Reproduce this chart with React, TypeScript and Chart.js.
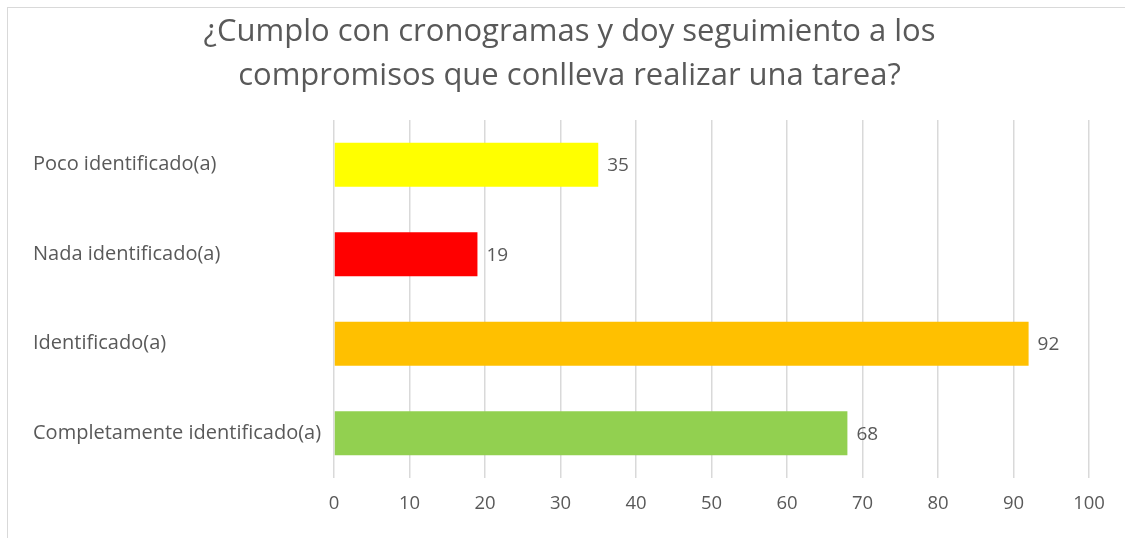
import React, { useEffect, useRef } from "react";
import { Chart, registerables } from "chart.js";

Chart.register(...registerables);

const titleLines = [
  "¿Cumplo con cronogramas y doy seguimiento a los",
  "compromisos que conlleva realizar una tarea?",
];
const categories = [
  "Poco identificado(a)",
  "Nada identificado(a)",
  "Identificado(a)",
  "Completamente identificado(a)",
];
const values = [35, 19, 92, 68];
const barColors = ["#FFFF00", "#FF0000", "#FFC000", "#92D050"];
const xMin = 0;
const xMax = 100;
const xStep = 10;

const TEXT = "#595959";
const GRID = "#d9d9d9";
const FONT = "'Open Sans', Lato, sans-serif";

const valueLabels = {
  id: "valueLabels",
  afterDatasetsDraw(chart: any) {
    const ctx = chart.ctx;
    const meta = chart.getDatasetMeta(0);
    ctx.save();
    ctx.fillStyle = TEXT;
    ctx.font = `19px ${FONT}`;
    ctx.textAlign = "left";
    ctx.textBaseline = "middle";
    meta.data.forEach((bar: any, i: number) => {
      const v = chart.data.datasets[0].data[i];
      ctx.fillText(String(v), bar.x + 9, bar.y + 1);
    });
    ctx.restore();
  },
};

// Title centred on the chart frame (which starts at x=7 and runs past the right edge)
const frameTitle = {
  id: "frameTitle",
  afterDraw(chart: any) {
    const ctx = chart.ctx;
    ctx.save();
    ctx.fillStyle = TEXT;
    ctx.font = `31px ${FONT}`;
    ctx.textAlign = "center";
    ctx.textBaseline = "middle";
    const cx = chart.width / 2 + 7;
    titleLines.forEach((line, i) => {
      ctx.fillText(line, cx, 32 + i * 44);
    });
    ctx.restore();
  },
};

export default function App() {
  const ref = useRef<HTMLCanvasElement>(null);
  useEffect(() => {
    if (!ref.current) return;
    const chart = new Chart(ref.current, {
      type: "bar",
      data: {
        labels: categories,
        datasets: [
          {
            data: values,
            backgroundColor: barColors,
            borderWidth: 0,
            barPercentage: 0.49,
            categoryPercentage: 1,
          },
        ],
      },
      options: {
        indexAxis: "y",
        animation: false,
        responsive: false,
        maintainAspectRatio: false,
        layout: { padding: { left: 33, right: 36, top: 120, bottom: 0 } },
        plugins: {
          legend: { display: false },
          tooltip: { enabled: false },
          title: { display: false },
        },
        scales: {
          x: {
            type: "linear",
            min: xMin,
            max: xMax,
            ticks: {
              stepSize: xStep,
              color: TEXT,
              font: { family: FONT, size: 18.5 },
              padding: 15,
            },
            grid: { color: GRID, lineWidth: 1.5, drawTicks: false },
            border: { display: false },
            afterFit: (s: any) => {
              s.height = 60;
            },
          },
          y: {
            type: "category",
            ticks: {
              color: TEXT,
              font: { family: FONT, size: 20 },
              crossAlign: "far",
              padding: 0,
            },
            grid: { display: false, drawTicks: false },
            border: { display: false },
            afterFit: (s: any) => {
              s.width = 301;
            },
          },
        },
      },
      plugins: [valueLabels, frameTitle],
    });
    return () => chart.destroy();
  }, []);

  return (
    <div style={{ position: "fixed", left: 0, top: 0, width: 1125, height: 538, background: "#fff", overflow: "hidden" }}>
      <div
        style={{
          position: "absolute",
          left: 7,
          top: 7,
          width: 1300,
          height: 700,
          border: `1px solid ${GRID}`,
        }}
      />
      <canvas ref={ref} width={1125} height={538} style={{ position: "absolute", left: 0, top: 0 }} />
    </div>
  );
}
